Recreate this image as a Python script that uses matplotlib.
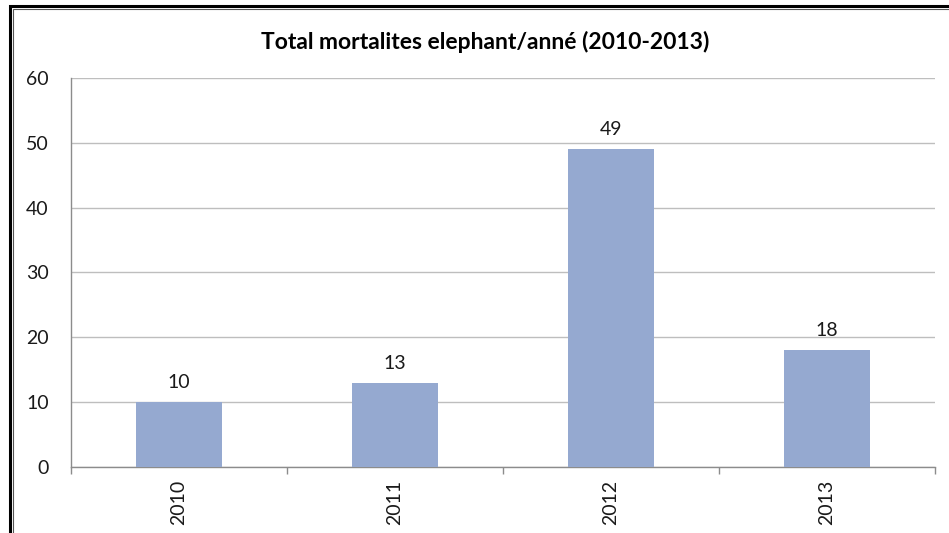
import matplotlib.pyplot as plt
from matplotlib.patches import Rectangle

# data
years = ["2010", "2011", "2012", "2013"]
deaths = [10, 13, 49, 18]
y_ticks = [0, 10, 20, 30, 40, 50, 60]

bar_color = "#95A9D0"
grid_color = "#BEBEBE"
text_color = "#1A1A1A"

plt.rcParams["font.family"] = ["Lato", "DejaVu Sans"]

fig = plt.figure(figsize=(9.49, 5.33), dpi=100)
ax = fig.add_axes([0.0748, 0.1238, 0.9104, 0.7299])

x = list(range(len(years)))
bars = ax.bar(x, deaths, width=0.4, color=bar_color, zorder=3)

for xi, v in zip(x, deaths):
    ax.annotate(str(v), (xi, v), xytext=(0, 8), textcoords="offset points",
                ha="center", va="bottom", fontsize=14, color=text_color)

ax.set_xlim(-0.5, len(years) - 0.5)
ax.set_ylim(0, 60)
ax.set_yticks(y_ticks)
ax.set_yticklabels([str(t) for t in y_ticks], fontsize=14, color=text_color)
ax.tick_params(axis="y", length=0, pad=16)

# category labels at bar centres, tick marks on boundaries
ax.set_xticks(x)
ax.set_xticklabels(years, rotation=90, fontsize=14, color=text_color)
ax.tick_params(axis="x", which="major", length=0, pad=9)
ax.set_xticks([i - 0.5 for i in range(len(years) + 1)], minor=True)
ax.tick_params(axis="x", which="minor", length=5, color="#8C8C8C", width=1)

ax.yaxis.grid(True, color=grid_color, linewidth=1, zorder=0)
for side in ["top", "right"]:
    ax.spines[side].set_visible(False)
for side in ["left", "bottom"]:
    ax.spines[side].set_color("#8C8C8C")
    ax.spines[side].set_linewidth(1)

fig.text(0.511, 0.921, "Total mortalites elephant/anné (2010-2013)",
         ha="center", va="center", fontsize=16.5, fontweight="bold", color="black")

# outer frame like the pasted chart box
fig.patches.append(Rectangle((0.0105, -0.1), 1.2, 1.088, transform=fig.transFigure,
                             fill=False, edgecolor="black", linewidth=2.2))
fig.patches.append(Rectangle((0.0138, -0.1), 1.2, 1.084, transform=fig.transFigure,
                             fill=False, edgecolor="#555555", linewidth=0.8))

fig.savefig("out.png", dpi=100)
